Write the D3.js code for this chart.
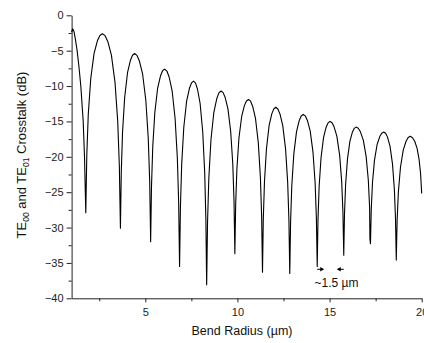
<!DOCTYPE html>
<html>
<head>
<meta charset="utf-8">
<script src="https://cdn.jsdelivr.net/npm/d3@7"></script>
<style>
  body { margin: 0; background: #fff; }
  svg { display: block; font-family: "Liberation Sans", Arial, sans-serif; }
</style>
</head>
<body>
<div id="chart"></div>
<script>
// bend radius (um) and crosstalk (dB)
const radius = [
  1.00, 1.06, 1.13, 1.20, 1.30, 1.40, 1.50, 1.63, 1.70, 1.77,
  1.824, 1.905, 2.04, 2.22, 2.40, 2.535, 2.67, 2.817, 2.964, 3.16, 3.356, 3.503, 3.591, 3.65,
  3.696, 3.765, 3.881, 4.035, 4.189, 4.305, 4.42, 4.551, 4.681, 4.855, 5.029, 5.16, 5.238, 5.29,
  5.336, 5.404, 5.518, 5.67, 5.822, 5.936, 6.05, 6.172, 6.293, 6.455, 6.617, 6.739, 6.811, 6.86,
  6.906, 6.974, 7.088, 7.24, 7.392, 7.506, 7.62, 7.727, 7.833, 7.975, 8.117, 8.224, 8.287, 8.33,
  8.377, 8.447, 8.564, 8.72, 8.876, 8.993, 9.11, 9.223, 9.335, 9.485, 9.635, 9.748, 9.815, 9.86,
  9.904, 9.971, 10.082, 10.23, 10.378, 10.489, 10.6, 10.714, 10.828, 10.98, 11.132, 11.246, 11.314, 11.36,
  11.403, 11.468, 11.576, 11.72, 11.864, 11.972, 12.08, 12.194, 12.308, 12.46, 12.612, 12.726, 12.794, 12.84,
  12.884, 12.949, 13.059, 13.205, 13.351, 13.46, 13.57, 13.684, 13.798, 13.95, 14.102, 14.216, 14.284, 14.33,
  14.371, 14.433, 14.537, 14.675, 14.813, 14.917, 15.02, 15.133, 15.245, 15.395, 15.545, 15.658, 15.725, 15.77,
  15.81, 15.87, 15.971, 16.105, 16.239, 16.34, 16.44, 16.557, 16.674, 16.83, 16.986, 17.103, 17.173, 17.19, 17.22,
  17.263, 17.328, 17.436, 17.58, 17.724, 17.832, 17.94, 18.042, 18.144, 18.28, 18.416, 18.518, 18.579, 18.62,
  18.666, 18.734, 18.848, 19.0, 19.152, 19.266, 19.38, 19.5, 19.62, 19.75, 19.86, 19.94, 20.0
];
const crosstalk = [
  -2.4, -1.9, -2.3, -3.3, -5.0, -7.3, -10.0, -15.0, -20.0, -27.9,
  -19.8, -13.99, -8.93, -5.38, -3.61, -2.85, -2.6, -2.88, -3.70, -5.63, -9.48, -14.98, -21.3, -30.1,
  -22.2, -16.5, -11.58, -8.12, -6.39, -5.65, -5.4, -5.67, -6.46, -8.33, -12.05, -17.37, -23.49, -32.0,
  -24.19, -18.58, -13.7, -10.28, -8.58, -7.84, -7.6, -7.88, -8.72, -10.67, -14.58, -20.16, -26.57, -35.5,
  -27.12, -21.09, -15.85, -12.18, -10.35, -9.56, -9.3, -9.59, -10.45, -12.47, -16.5, -22.26, -28.88, -38.1,
  -29.33, -23.03, -17.55, -13.71, -11.8, -10.97, -10.7, -10.93, -11.62, -13.23, -16.45, -21.05, -26.34, -33.7,
  -26.72, -21.71, -17.35, -14.3, -12.77, -12.12, -11.9, -12.14, -12.88, -14.58, -18.0, -22.88, -28.49, -36.3,
  -28.84, -23.49, -18.83, -15.56, -13.93, -13.23, -13.0, -13.24, -13.94, -15.59, -18.88, -23.58, -28.98, -36.5,
  -29.3, -24.13, -19.63, -16.48, -14.9, -14.23, -14.0, -14.22, -14.86, -16.37, -19.38, -23.68, -28.62, -35.5,
  -28.94, -24.23, -20.13, -17.26, -15.82, -15.21, -15.0, -15.19, -15.76, -17.08, -19.73, -23.51, -27.85, -33.9,
  -28.11, -23.95, -20.33, -17.79, -16.52, -15.98, -15.8, -15.97, -16.47, -17.64, -19.98, -23.32, -27.16, -31.6, -32.3,
  -27.38, -23.7, -20.5, -18.26, -17.14, -16.66, -16.5, -16.68, -17.22, -18.49, -21.03, -24.65, -28.81, -34.6,
  -29.0, -24.98, -21.48, -19.03, -17.8, -17.28, -17.1, -17.3, -17.8, -18.8, -20.4, -22.4, -25.2
];

const xTicks = [5, 10, 15, 20];
const xMinorTicks = [2.5, 7.5, 12.5, 17.5];
const yTicks = [0, -5, -10, -15, -20, -25, -30, -35, -40];
const yMinorTicks = [-2.5, -7.5, -12.5, -17.5, -22.5, -27.5, -32.5, -37.5];

// period marker between two neighbouring dips
const periodDips = [14.33, 15.77];
const periodLevel = -35.9;
const periodLabel = "~1.5 \u00b5m";

const width = 424;
const height = 343;

const x = d3.scaleLinear().domain([1, 20]).range([71.6, 421.7]);
const y = d3.scaleLinear().domain([-40, 0]).range([298.3, 15.3]);

const svg = d3.select("#chart").append("svg")
    .attr("width", width)
    .attr("height", height);

// axes
const gx = svg.append("g")
    .attr("transform", `translate(0,${y(-40)})`)
    .call(d3.axisBottom(x).tickValues(xTicks).tickSize(4).tickSizeOuter(0).tickPadding(6));
svg.append("g")
    .attr("transform", `translate(0,${y(-40)})`)
    .call(d3.axisBottom(x).tickValues(xMinorTicks).tickSize(3).tickFormat(""))
    .call(g => g.select(".domain").remove());

const gy = svg.append("g")
    .attr("transform", `translate(${x(1)},0)`)
    .call(d3.axisLeft(y).tickValues(yTicks).tickSize(5).tickSizeOuter(0).tickPadding(3));
svg.append("g")
    .attr("transform", `translate(${x(1)},0)`)
    .call(d3.axisLeft(y).tickValues(yMinorTicks).tickSize(3).tickFormat(""))
    .call(g => g.select(".domain").remove());

svg.selectAll(".tick text")
    .attr("font-family", "Liberation Sans, Arial, sans-serif")
    .attr("font-size", 11)
    .attr("fill", "#222");
svg.selectAll(".tick line, .domain").attr("stroke", "#222");

// curve
const pts = radius.map((r, i) => [r, crosstalk[i]]);
const line = d3.line()
    .x(d => x(d[0]))
    .y(d => y(d[1]));

svg.append("path")
    .datum(pts)
    .attr("fill", "none")
    .attr("stroke", "#000")
    .attr("stroke-width", 1.1)
    .attr("stroke-linejoin", "round")
    .attr("d", line);

// period annotation: two small arrows pointing inward
const arrowLen = 7;
const py = y(periodLevel);
const arrows = [
  { x0: x(periodDips[0]), dir: 1 },
  { x0: x(periodDips[1]), dir: -1 }
];
arrows.forEach(a => {
  const tip = a.x0 + a.dir * arrowLen;
  svg.append("line")
      .attr("x1", a.x0).attr("x2", tip - a.dir * 3)
      .attr("y1", py).attr("y2", py)
      .attr("stroke", "#000").attr("stroke-width", 1);
  svg.append("path")
      .attr("d", `M${tip},${py} L${tip - a.dir * 4},${py - 2.2} L${tip - a.dir * 4},${py + 2.2} Z`)
      .attr("fill", "#000");
});

svg.append("text")
    .attr("x", (x(periodDips[0]) + x(periodDips[1])) / 2 + 6)
    .attr("y", 287)
    .attr("text-anchor", "middle")
    .attr("font-size", 12)
    .attr("fill", "#111")
    .text(periodLabel);

// axis titles
svg.append("text")
    .attr("x", 242)
    .attr("y", 335)
    .attr("text-anchor", "middle")
    .attr("font-size", 12.5)
    .attr("fill", "#111")
    .text("Bend Radius (\u00b5m)");

const yTitle = svg.append("text")
    .attr("transform", "translate(26,155) rotate(-90)")
    .attr("text-anchor", "middle")
    .attr("font-size", 13)
    .attr("fill", "#111");
yTitle.append("tspan").text("TE");
yTitle.append("tspan").attr("font-size", 8.5).attr("dy", 3).text("00");
yTitle.append("tspan").attr("dy", -3).text(" and TE");
yTitle.append("tspan").attr("font-size", 8.5).attr("dy", 3).text("01");
yTitle.append("tspan").attr("dy", -3).text(" Crosstalk (dB)");
</script>
</body>
</html>
